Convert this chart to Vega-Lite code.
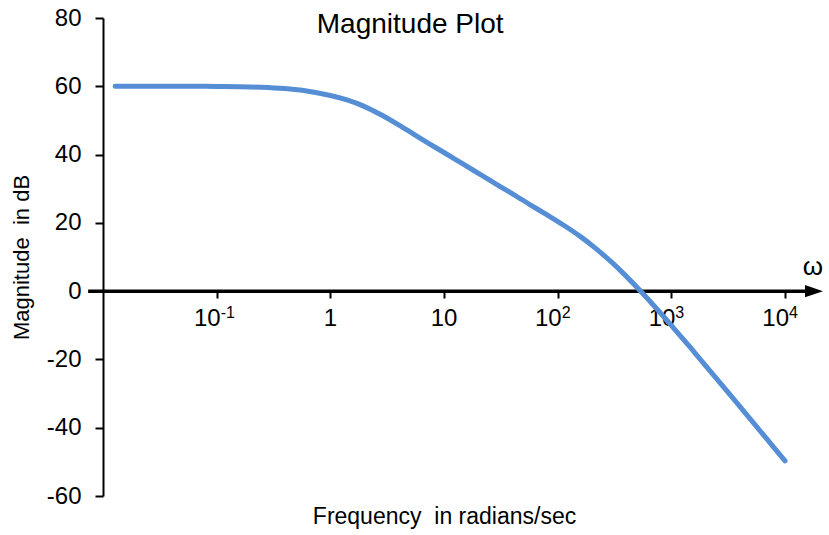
{
  "$schema": "https://vega.github.io/schema/vega-lite/v6.json",
  "width": 682,
  "height": 478,
  "autosize": {"type": "none"},
  "padding": {"left": 103, "top": 18, "right": 44, "bottom": 39},
  "background": "white",
  "config": {"font": "Liberation Sans", "view": {"stroke": null}},
  "datasets": {
    "curve": [
      {"w": 0.0128, "dB": 60},
      {"w": 0.05, "dB": 60},
      {"w": 0.1, "dB": 59.95},
      {"w": 0.2, "dB": 59.8},
      {"w": 0.36, "dB": 59.4},
      {"w": 0.6, "dB": 58.7},
      {"w": 1, "dB": 57.3},
      {"w": 1.4, "dB": 56.0},
      {"w": 1.96, "dB": 54.2},
      {"w": 2.74, "dB": 51.8},
      {"w": 3.85, "dB": 49.0},
      {"w": 5.4, "dB": 46.0},
      {"w": 7.57, "dB": 43.0},
      {"w": 10, "dB": 40.6},
      {"w": 14.9, "dB": 37.1},
      {"w": 20.8, "dB": 34.2},
      {"w": 29.2, "dB": 31.2},
      {"w": 41, "dB": 28.3},
      {"w": 57.4, "dB": 25.3},
      {"w": 80, "dB": 22.4},
      {"w": 113, "dB": 19.3},
      {"w": 160, "dB": 15.9},
      {"w": 220, "dB": 12.3},
      {"w": 300, "dB": 8.4},
      {"w": 400, "dB": 4.4},
      {"w": 533, "dB": 0.1},
      {"w": 750, "dB": -5.3},
      {"w": 1047, "dB": -10.8},
      {"w": 1470, "dB": -16.5},
      {"w": 2060, "dB": -22.3},
      {"w": 3000, "dB": -28.8},
      {"w": 4630, "dB": -36.3},
      {"w": 7000, "dB": -43.5},
      {"w": 10000, "dB": -49.7}
    ],
    "xlabels": [
      {"w": 0.1, "base": "10", "sup": "-1"},
      {"w": 1, "base": "1", "sup": ""},
      {"w": 10, "base": "10", "sup": ""},
      {"w": 100, "base": "10", "sup": "2"},
      {"w": 1000, "base": "10", "sup": "3"},
      {"w": 10000, "base": "10", "sup": "4"}
    ],
    "notes": [
      {"w": 5.04, "dB": 75.7, "text": "Magnitude Plot", "kind": "title"},
      {"w": 17600, "dB": 4.7, "text": "ω", "kind": "omega"}
    ]
  },
  "layer": [
    {
      "data": {"name": "notes"},
      "transform": [{"filter": "datum.kind == 'omega'"}],
      "mark": {"type": "rule", "color": "black", "strokeWidth": 3.5},
      "encoding": {
        "x": {"datum": 0.0074, "type": "quantitative", "scale": {"type": "log", "domain": [0.01, 10000], "nice": false}},
        "x2": {"datum": 17300},
        "y": {"datum": 0, "type": "quantitative", "scale": {"domain": [-60, 80], "nice": false}}
      }
    },
    {
      "data": {"name": "notes"},
      "transform": [{"filter": "datum.kind == 'omega'"}],
      "mark": {"type": "point", "shape": "M-1,-0.67L1,0L-1,0.67Z", "filled": true, "color": "black", "size": 324, "opacity": 1},
      "encoding": {
        "x": {"datum": 17990, "type": "quantitative", "scale": {"type": "log", "domain": [0.01, 10000], "nice": false}},
        "y": {"datum": 0, "type": "quantitative", "scale": {"domain": [-60, 80], "nice": false}}
      }
    },
    {
      "data": {"name": "notes"},
      "transform": [{"filter": "datum.kind == 'omega'"}],
      "mark": {"type": "text", "font": "Liberation Sans", "fontSize": 26, "color": "black", "align": "center", "baseline": "alphabetic"},
      "encoding": {
        "x": {"field": "w", "type": "quantitative", "scale": {"type": "log", "domain": [0.01, 10000], "nice": false}},
        "y": {"field": "dB", "type": "quantitative", "scale": {"domain": [-60, 80], "nice": false}},
        "text": {"field": "text"}
      }
    },
    {
      "data": {"name": "notes"},
      "transform": [{"filter": "datum.kind == 'title'"}],
      "mark": {"type": "text", "font": "Liberation Sans", "fontSize": 28, "color": "black", "align": "center", "baseline": "alphabetic"},
      "encoding": {
        "x": {"field": "w", "type": "quantitative", "scale": {"type": "log", "domain": [0.01, 10000], "nice": false}},
        "y": {"field": "dB", "type": "quantitative", "scale": {"domain": [-60, 80], "nice": false}},
        "text": {"field": "text"}
      }
    },
    {
      "data": {"name": "xlabels"},
      "transform": [{"filter": "datum.sup != ''"}],
      "mark": {"type": "text", "font": "Liberation Sans", "fontSize": 24, "color": "black", "align": "right", "baseline": "alphabetic", "dx": 4, "dy": 35},
      "encoding": {
        "x": {"field": "w", "type": "quantitative", "scale": {"type": "log", "domain": [0.01, 10000], "nice": false}},
        "y": {"datum": 0, "type": "quantitative", "scale": {"domain": [-60, 80], "nice": false}},
        "text": {"field": "base"}
      }
    },
    {
      "data": {"name": "xlabels"},
      "transform": [{"filter": "datum.sup != ''"}],
      "mark": {"type": "text", "font": "Liberation Sans", "fontSize": 16, "color": "black", "align": "left", "baseline": "alphabetic", "dx": 4, "dy": 27},
      "encoding": {
        "x": {"field": "w", "type": "quantitative", "scale": {"type": "log", "domain": [0.01, 10000], "nice": false}},
        "y": {"datum": 0, "type": "quantitative", "scale": {"domain": [-60, 80], "nice": false}},
        "text": {"field": "sup"}
      }
    },
    {
      "data": {"name": "xlabels"},
      "transform": [{"filter": "datum.sup == ''"}],
      "mark": {"type": "text", "font": "Liberation Sans", "fontSize": 24, "color": "black", "align": "center", "baseline": "alphabetic", "dy": 35},
      "encoding": {
        "x": {"field": "w", "type": "quantitative", "scale": {"type": "log", "domain": [0.01, 10000], "nice": false}},
        "y": {"datum": 0, "type": "quantitative", "scale": {"domain": [-60, 80], "nice": false}},
        "text": {"field": "base"}
      }
    },
    {
      "data": {"name": "curve"},
      "mark": {"type": "line", "color": "#558ED5", "strokeWidth": 5, "strokeCap": "round", "strokeJoin": "round", "interpolate": "catmull-rom"},
      "encoding": {
        "x": {
          "field": "w", "type": "quantitative",
          "scale": {"type": "log", "domain": [0.01, 10000], "nice": false},
          "axis": {
            "orient": "bottom", "offset": -205,
            "values": [0.1, 1, 10, 100, 1000, 10000],
            "labels": false,
            "domain": false, "grid": false,
            "ticks": true, "tickColor": "black", "tickWidth": 2, "tickSize": 7,
            "title": "Frequency\u00a0 in radians/sec",
            "titleFont": "Liberation Sans", "titleFontSize": 23, "titleFontWeight": "normal", "titleColor": "black",
            "titleY": 232, "titleBaseline": "alphabetic"
          }
        },
        "y": {
          "field": "dB", "type": "quantitative",
          "scale": {"domain": [-60, 80], "nice": false},
          "axis": {
            "values": [-60, -40, -20, 0, 20, 40, 60, 80],
            "labelExpr": "'' + datum.value",
            "domain": true, "domainColor": "black", "domainWidth": 2,
            "grid": false,
            "tickColor": "black", "tickWidth": 2, "tickSize": 8,
            "labelFont": "Liberation Sans", "labelFontSize": 24, "labelColor": "black", "labelPadding": 14,
            "labelFlush": false, "labelOverlap": false,
            "title": "Magnitude\u00a0 in dB",
            "titleFont": "Liberation Sans", "titleFontSize": 22, "titleFontWeight": "normal", "titleColor": "black",
            "titlePadding": 13
          }
        }
      }
    }
  ]
}
